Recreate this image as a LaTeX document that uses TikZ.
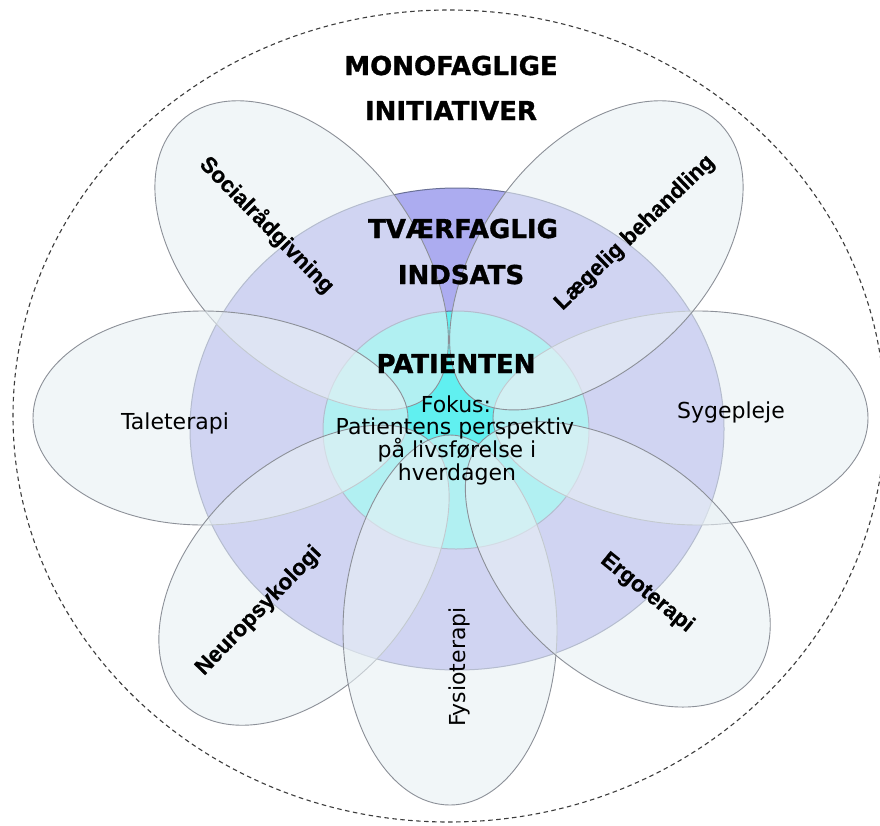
\documentclass[tikz,border=0pt]{standalone}
\usepackage{fontspec}
\setmainfont{DejaVu Sans}
\newfontfamily\labfont[FakeBold=0.6]{Liberation Sans Bold}
\newfontfamily\heavyfont[FakeBold=1.2]{DejaVu Sans Bold}
\definecolor{purplefill}{RGB}{172,172,240}
\definecolor{cyanfill}{RGB}{96,240,240}
\definecolor{petalfill}{RGB}{232,240,244}
\definecolor{petalline}{RGB}{140,144,152}
\definecolor{ringline}{RGB}{105,112,150}
\definecolor{dashline}{RGB}{60,60,60}
\newcommand\petalshape[6]{% cx cy angle aout L b
  \begin{scope}[shift={(#1,#2)}, rotate=#3]
    \path[petal] (0pt,#6pt) arc[start angle=90, end angle=-90, x radius=#4pt, y radius=#6pt]
      .. controls ({-0.5*#5pt},{-#6pt}) and ({-#5pt},{-0.5*#6pt}) .. ({-#5pt},0pt)
      .. controls ({-#5pt},{0.5*#6pt}) and ({-0.5*#5pt},{#6pt}) .. (0pt,#6pt) -- cycle;
  \end{scope}}
\tikzset{
  petal/.style={fill=petalfill, fill opacity=0.6, draw=petalline, line width=0.9pt},
  ring/.style={draw=ringline, line width=1pt},
  bigtxt/.style={font=\heavyfont\fontsize{26}{28}\selectfont, inner sep=0pt},
  txt/.style={font=\fontsize{22}{24}\selectfont, inner sep=0pt},
  lbl/.style={font=\labfont\fontsize{22.5}{24}\selectfont, inner sep=0pt},
}
\begin{document}
\begin{tikzpicture}[x=1pt, y=-1pt]
\useasboundingbox (0,0) rectangle (880,825);
\fill[white] (0,0) rectangle (880,825);
% outer dashed boundary
\draw[dashline, line width=1.1pt, dash pattern=on 4.5pt off 3.5pt] (449,416) ellipse [x radius=436pt, y radius=406pt];
% interdisciplinary ring
\path[ring, fill=purplefill] (457,429) ellipse [x radius=267pt, y radius=241pt];
% patient circle
\path[ring, fill=cyanfill] (456,430) ellipse [x radius=133pt, y radius=119pt];
% petals
\petalshape{698}{418}{0}{170}{205}{107}
\petalshape{603}{247}{48}{170}{200}{110}
\petalshape{295}{247}{132}{170}{200}{110}
\petalshape{203}{418}{180}{170}{205}{107}
\petalshape{300}{580}{227}{170}{190}{110}
\petalshape{450}{630}{270}{175}{195}{107}
\petalshape{623}{568}{-41}{170}{190}{110}
% headings
\node[bigtxt, anchor=base] (mono) at (451,75) {MONOFAGLIGE};
\node[bigtxt, anchor=base] (init) at (451,120) {INITIATIVER};
\node[bigtxt, anchor=base] (tvaer) at (463,238) {TVÆRFAGLIG};
\node[bigtxt, anchor=base] (inds) at (461,284) {INDSATS};
\node[bigtxt, anchor=base] (pat) at (456,373) {PATIENTEN};
% focus text
\node[txt, anchor=base] (fok1) at (456,412) {Fokus:};
\node[txt, anchor=base] (fok2) at (455,434.5) {Patientens perspektiv};
\node[txt, anchor=base] (fok3) at (457,457.5) {på livsførelse i};
\node[txt, anchor=base] (fok4) at (457,480) {hverdagen};
% petal labels
\node[txt, anchor=base] (tale) at (175,429) {Taleterapi};
\node[txt, anchor=base] (syge) at (731,418) {Sygepleje};
\node[txt, anchor=base, rotate=90] (fysio) at (465,667) {Fysioterapi};
\node[lbl, rotate=-45.5] (social) at (267,225) {Socialrådgivning};
\node[lbl, rotate=44] (laege) at (635,233) {Lægelig behandling};
\node[lbl, rotate=46] (neuro) at (259,611) {Neuropsykologi};
\node[lbl, rotate=-39] (ergo) at (647,593) {Ergoterapi};
\end{tikzpicture}
\end{document}
